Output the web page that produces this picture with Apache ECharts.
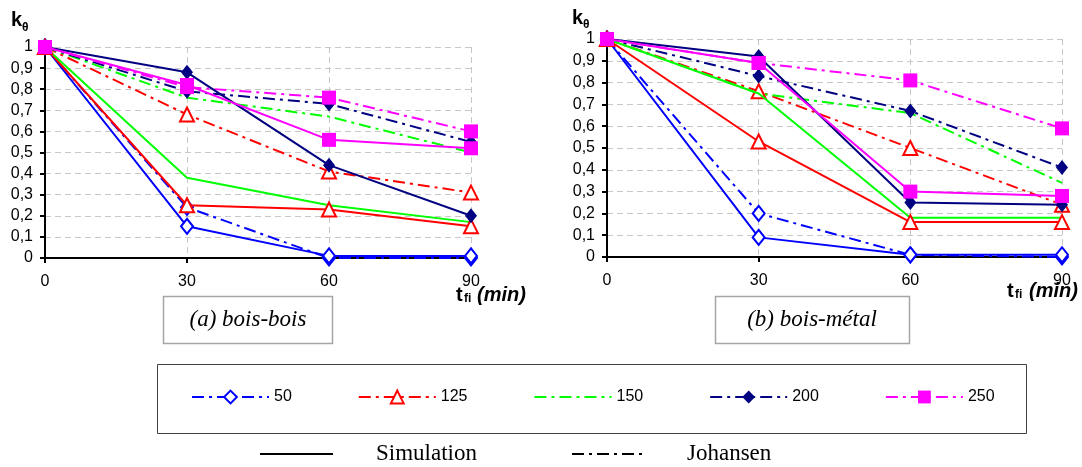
<!DOCTYPE html>
<html><head><meta charset="utf-8">
<script src="https://cdn.jsdelivr.net/npm/echarts@6/dist/echarts.min.js"></script>
<style>html,body{margin:0;padding:0;background:#fff}#c{width:1082px;height:467px}</style>
</head><body><div id="c"></div>
<script>
// x values (t_fi in min) and legend categories
const times = [0, 30, 60, 90];
const groups = ['50', '125', '150', '200', '250'];
const panelTitles = ['(a) bois-bois', '(b) bois-métal'];
const seriesKinds = ['Simulation', 'Johansen'];

// (a) bois-bois : Simulation
const simA50  = [1, 0.15, 0.01, 0.01];
const simA125 = [1, 0.25, 0.23, 0.15];
const simA150 = [1, 0.38, 0.25, 0.17];
const simA200 = [1, 0.88, 0.44, 0.20];
const simA250 = [1, 0.82, 0.56, 0.52];
// (a) bois-bois : Johansen
const johA50  = [1, 0.24, 0.00, 0.00];
const johA125 = [1, 0.68, 0.41, 0.31];
const johA150 = [1, 0.76, 0.67, 0.50];
const johA200 = [1, 0.79, 0.73, 0.55];
const johA250 = [1, 0.81, 0.76, 0.60];

// (b) bois-métal : Simulation
const simB50  = [1, 0.09, 0.01, 0.01];
const simB125 = [1, 0.53, 0.16, 0.16];
const simB150 = [1, 0.75, 0.18, 0.18];
const simB200 = [1, 0.92, 0.25, 0.24];
const simB250 = [1, 0.89, 0.30, 0.28];
// (b) bois-métal : Johansen
const johB50  = [1, 0.20, 0.01, 0.00];
const johB125 = [1, 0.76, 0.50, 0.24];
const johB150 = [1, 0.75, 0.66, 0.34];
const johB200 = [1, 0.83, 0.67, 0.41];
const johB250 = [1, 0.89, 0.81, 0.59];

const simA = [simA50, simA125, simA150, simA200, simA250];
const johA = [johA50, johA125, johA150, johA200, johA250];
const simB = [simB50, simB125, simB150, simB200, simB250];
const johB = [johB50, johB125, johB150, johB200, johB250];

// styles
const colors = ['#0000ff', '#ff0000', '#00ff00', '#000080', '#ff00ff'];
const symbols = ['emptyDiamond', 'emptyTriangle', 'none', 'diamond', 'rect'];
const symbolSizes = [[12, 15], [14, 14], 0, [12, 15], [14, 14]];
const dashDot = [12, 5, 3, 5];
const SANS = 'Liberation Sans';
const SERIF = 'Liberation Serif';

function zip(vals) { return times.map((t, i) => [t, vals[i]]); }

const series = [];
function addSeries(sets, idx, johansen) {
  sets.forEach((vals, g) => {
    series.push({
      type: 'line',
      name: johansen ? groups[g] : 'Sim ' + groups[g],
      xAxisIndex: idx, yAxisIndex: idx,
      data: zip(vals),
      symbol: symbols[g],
      symbolSize: symbolSizes[g],
      showSymbol: symbols[g] !== 'none',
      clip: false,
      color: colors[g],
      itemStyle: { color: colors[g], borderWidth: 2 },
      lineStyle: { color: colors[g], width: 2, type: johansen ? dashDot : 'solid' },
      emphasis: { disabled: true },
      animation: false,
      z: johansen ? 2 : 3
    });
  });
}
addSeries(johA, 0, true);
addSeries(johB, 1, true);
addSeries(simA, 0, false);
addSeries(simB, 1, false);

const yFmt = v => String(Math.round(v * 10) / 10).replace('.', ',');
function xAxis(gi) {
  return {
    type: 'value', gridIndex: gi, min: 0, max: 90, interval: 30,
    axisLine: { show: true, onZero: false, lineStyle: { color: '#000', width: 2 } },
    axisTick: { show: true, length: 5, lineStyle: { color: '#000', width: 2 } },
    axisLabel: { fontFamily: SANS, fontSize: 16, color: '#000', margin: 16 },
    splitLine: { show: true, lineStyle: { color: '#c8c8c8', type: [6, 4], width: 1 } }
  };
}
function yAxis(gi) {
  return {
    type: 'value', gridIndex: gi, min: 0, max: 1, interval: 0.1,
    axisLine: { show: true, onZero: false, lineStyle: { color: '#000', width: 2 } },
    axisTick: { show: true, length: 5, lineStyle: { color: '#000', width: 2 } },
    axisLabel: { fontFamily: SANS, fontSize: 16, color: '#000', margin: 12, formatter: yFmt },
    splitLine: { show: true, lineStyle: { color: '#c8c8c8', type: [6, 4], width: 1 } }
  };
}

function txt(x, y, text, font, opts) {
  return Object.assign({ type: 'text', x: x, y: y, silent: true,
    style: Object.assign({ text: text, font: font, fill: '#000', textAlign: 'left', textVerticalAlign: 'middle' }, opts || {}) });
}

const graphics = [
  // y axis titles k_theta
  txt(11, 20, 'k', 'bold 20px "' + SANS + '"'),
  txt(22, 28, 'θ', 'bold 12px "' + SANS + '"'),
  txt(572, 18, 'k', 'bold 20px "' + SANS + '"'),
  txt(583, 25, 'θ', 'bold 12px "' + SANS + '"'),
  // x axis titles
  txt(456, 295, 't', 'bold 20px "' + SANS + '"'),
  txt(464, 299, 'fi', 'bold 12px "' + SANS + '"'),
  txt(477, 295, '(min)', 'italic bold 20px "' + SANS + '"'),
  txt(1007, 291, 't', 'bold 20px "' + SANS + '"'),
  txt(1015, 295, 'fi', 'bold 12px "' + SANS + '"'),
  txt(1029, 291, '(min)', 'italic bold 20px "' + SANS + '"'),
  // panel label boxes
  { type: 'rect', silent: true, shape: { x: 163.5, y: 296.5, width: 169, height: 47 },
    style: { fill: 'none', stroke: '#a6a6a6', lineWidth: 1.5 } },
  txt(248, 320, panelTitles[0], 'italic 23px "' + SERIF + '"', { textAlign: 'center' }),
  { type: 'rect', silent: true, shape: { x: 715.5, y: 296.5, width: 194, height: 47 },
    style: { fill: 'none', stroke: '#a6a6a6', lineWidth: 1.5 } },
  txt(812, 320, panelTitles[1], 'italic 23px "' + SERIF + '"', { textAlign: 'center' }),
  // legend frame
  { type: 'rect', silent: true, shape: { x: 157.5, y: 364.5, width: 869, height: 69 },
    style: { fill: 'none', stroke: '#404040', lineWidth: 1 } },
  // Simulation / Johansen key
  { type: 'line', silent: true, shape: { x1: 260, y1: 454, x2: 333, y2: 454 },
    style: { stroke: '#000', lineWidth: 2 } },
  txt(376, 454, seriesKinds[0], '23px "' + SERIF + '"'),
  { type: 'line', silent: true, shape: { x1: 572, y1: 454, x2: 645, y2: 454 },
    style: { stroke: '#000', lineWidth: 2, lineDash: dashDot } },
  txt(687, 454, seriesKinds[1], '23px "' + SERIF + '"')
];

const legendData = groups.map((g, i) => symbols[i] === 'none'
  ? { name: g, itemStyle: { color: 'rgba(0,0,0,0)', borderColor: 'rgba(0,0,0,0)', borderWidth: 0 } }
  : { name: g });

const chart = echarts.init(document.getElementById('c'), null, { renderer: 'canvas' });
chart.setOption({
  animation: false,
  backgroundColor: '#fff',
  grid: [
    { left: 45, right: 611, top: 47, bottom: 209, containLabel: false },
    { left: 607, right: 20, top: 39, bottom: 210, containLabel: false }
  ],
  xAxis: [xAxis(0), xAxis(1)],
  yAxis: [yAxis(0), yAxis(1)],
  legend: {
    data: legendData, left: 191, top: 389, padding: 0,
    itemWidth: 77, itemHeight: 16, itemGap: 66, selectedMode: false,
    lineStyle: { width: 2 },
    textStyle: { fontFamily: SANS, fontSize: 16, color: '#000' }
  },
  series: series,
  graphic: graphics
});
</script>
</body></html>
